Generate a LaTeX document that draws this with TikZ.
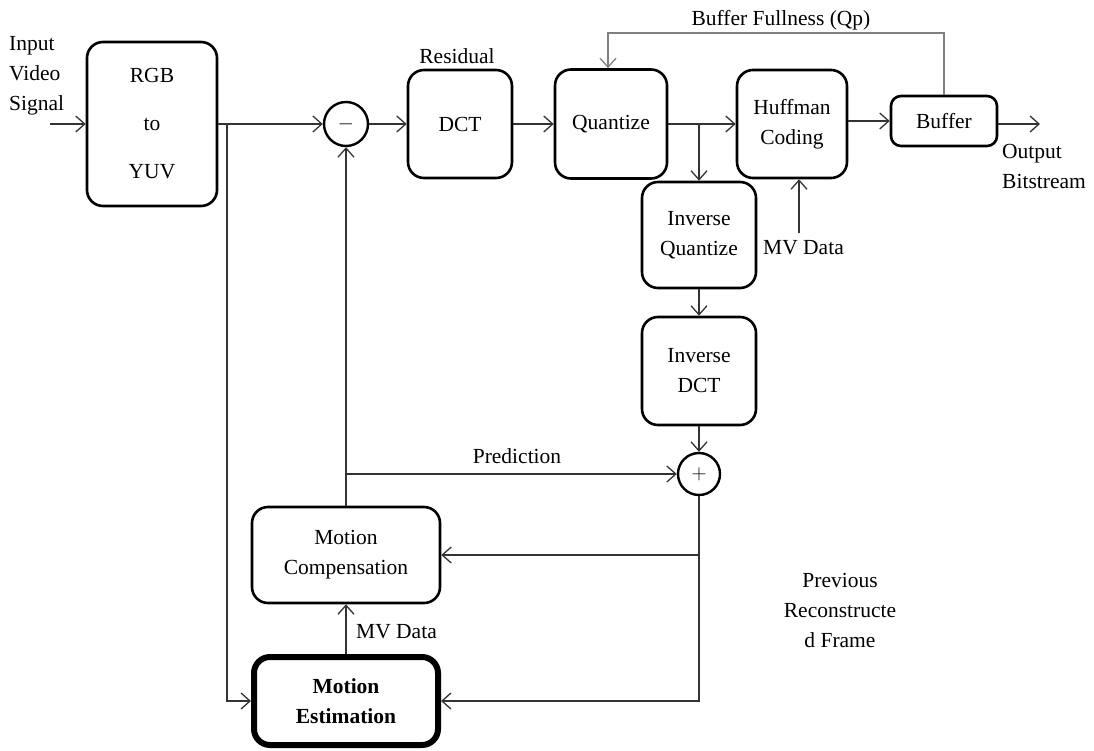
\documentclass[tikz,border=0pt]{standalone}
\usepackage{fontspec}
\setmainfont{Liberation Serif}
\usetikzlibrary{arrows.meta}

\begin{document}
\begin{tikzpicture}[x=1pt, y=-1pt,
  every node/.style={font=\fontsize{21.5}{30}\selectfont, inner sep=0pt},
  block/.style={draw, line width=2.6pt, rounded corners=16pt, align=center},
  sumnode/.style={draw, circle, line width=2.4pt, minimum size=44pt},
  line/.style={line width=1.3pt, draw=black!80},
  arr/.style={line, -{Straight Barb[length=9pt,width=16pt]}}]
  \useasboundingbox (0,0) rectangle (1094,751);

  % --- blocks of the forward path
  \node[block, minimum width=130pt, minimum height=164pt] (rgb) at (152,124) {RGB\\[18pt]to\\[18pt]YUV};
  \node[sumnode] (minus) at (346,124) {$-$};
  \node[block, minimum width=104pt, minimum height=108pt] (dct) at (460,124) {DCT};
  \node[block, minimum width=112pt, minimum height=109pt] (quant) at (611,124) {Quantize};
  \node[block, minimum width=110pt, minimum height=108pt] (huff) at (792,124) {Huffman\\Coding};
  \node[block, rounded corners=10pt, minimum width=106pt, minimum height=50pt] (buf) at (944,121) {Buffer};

  % --- blocks of the feedback path
  \node[block, minimum width=114pt, minimum height=106pt] (iquant) at (699,235) {Inverse\\Quantize};
  \node[block, minimum width=114pt, minimum height=108pt] (idct) at (699,371) {Inverse\\DCT};
  \node[sumnode, minimum size=42pt] (plus) at (699,474) {$+$};
  \node[block, minimum width=188pt, minimum height=96pt] (mc) at (346,555) {Motion\\Compensation};
  \node[block, line width=6pt, minimum width=184pt, minimum height=88pt] (me) at (346,701) {\textbf{Motion}\\\textbf{Estimation}};

  % --- free ends and corners
  \coordinate (vin) at (50,124);
  \coordinate (vout) at (1040,124);
  \coordinate (split1) at (227,124);
  \coordinate (mvin) at (799,233);
  \coordinate (fbtop) at (944,33);

  % --- connectors
  \draw[arr] (vin) -- (rgb.west);
  \draw[arr] (rgb.east) -- (minus.west);
  \draw[arr] (split1) |- (me.west);
  \draw[arr] (mc.north) -- (minus.south);
  \draw[arr] (minus.east) -- (dct.west);
  \draw[arr] (dct.east) -- (quant.west);
  \draw[arr] (quant.east) -- (huff.west);
  \draw[arr] (quant.east -| iquant.north) -- (iquant.north);
  \draw[arr] (huff.east |- buf.west) -- (buf.west);
  \draw[arr] (buf.east |- vout) -- (vout);
  \draw[arr, draw=black!50] (buf.north) -- (fbtop) -| ([xshift=-3pt]quant.north);
  \draw[arr] (mvin) -- (mvin |- huff.south);
  \draw[arr] (iquant.south) -- (idct.north);
  \draw[arr] (idct.south) -- (plus.north);
  \draw[arr] (mc.north |- plus.west) -- (plus.west);
  \draw[arr] (plus.south) |- (me.east);
  \draw[arr] (plus.south |- mc.east) -- (mc.east);
  \draw[arr] (me.north) -- (mc.south);

  % --- labels
  \node[align=left, anchor=west] (inlbl) at (9,76) {Input\\Video\\Signal};
  \node[align=left, anchor=west] (outlbl) at (1002,166) {Output\\Bitstream};
  \node (reslbl) at (457,56) {Residual};
  \node (fblbl) at (781,20) {Buffer Fullness (Qp)};
  \node[anchor=west] (mvlbl1) at (763,248) {MV Data};
  \node[anchor=west] (mvlbl2) at (356,632) {MV Data};
  \node (predlbl) at (517,456) {Prediction};
  \node[align=center] (prevlbl) at (840,610) {Previous\\Reconstructe\\d Frame};
\end{tikzpicture}
\end{document}
